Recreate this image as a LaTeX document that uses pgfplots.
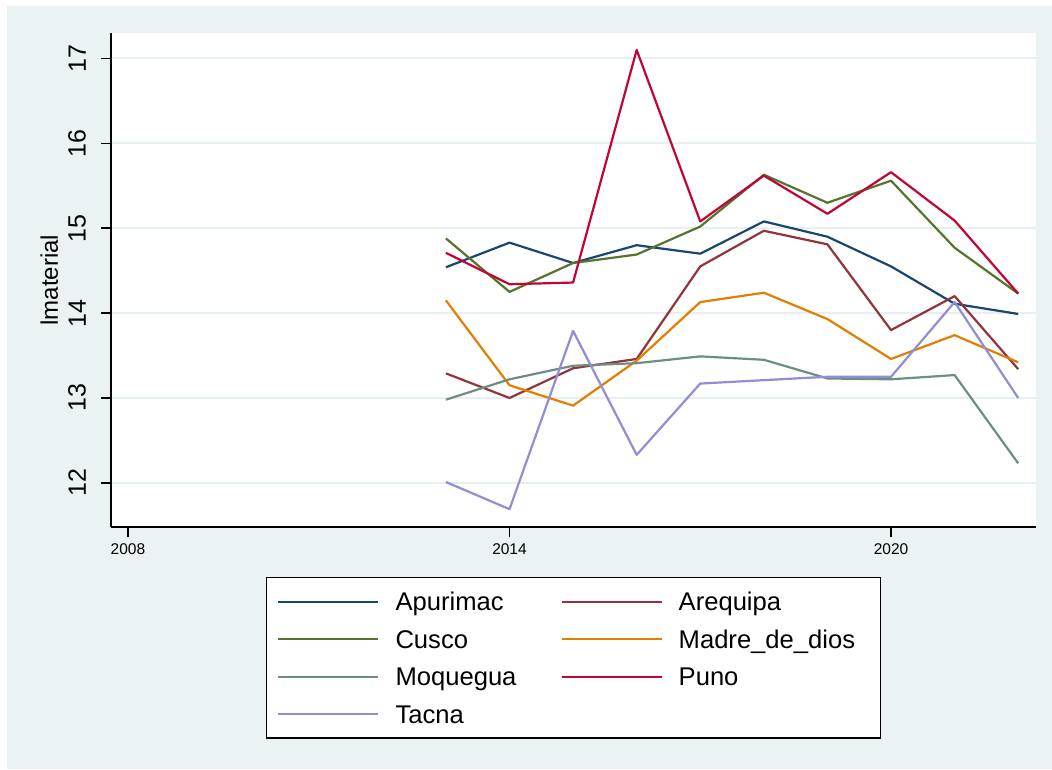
\documentclass[border=0pt]{standalone}
\usepackage{fontspec}
\setmainfont{Liberation Sans}
\setsansfont{Liberation Sans}
\usepackage{pgfplots}
\pgfplotsset{compat=1.18}
\definecolor{bgc}{RGB}{234,242,243}
\definecolor{gridc}{RGB}{230,239,241}
\definecolor{snavy}{RGB}{26,71,111}
\definecolor{smaroon}{RGB}{144,53,59}
\definecolor{sforest}{RGB}{85,117,47}
\definecolor{sdkorange}{RGB}{227,126,0}
\definecolor{steal}{RGB}{110,142,132}
\definecolor{scranberry}{RGB}{193,5,52}
\definecolor{slavender}{RGB}{147,141,210}

\pgfplotstableread{
year Apurimac Arequipa Cusco Madre Moquegua Puno Tacna
2013 14.54 13.29 14.88 14.15 12.98 14.71 12.01
2014 14.83 13.00 14.25 13.15 13.22 14.34 11.69
2015 14.59 13.35 14.59 12.91 13.38 14.36 13.79
2016 14.80 13.46 14.69 13.44 13.41 17.10 12.33
2017 14.70 14.55 15.02 14.13 13.49 15.08 13.17
2018 15.08 14.97 15.63 14.24 13.45 15.62 13.21
2019 14.90 14.81 15.30 13.93 13.23 15.17 13.25
2020 14.55 13.80 15.56 13.46 13.22 15.66 13.25
2021 14.11 14.20 14.77 13.74 13.27 15.09 14.13
2022 13.99 13.34 14.23 13.42 12.23 14.23 13.00
}\datatable

\begin{document}
\begin{tikzpicture}[x=1pt,y=1pt]
\fill[white] (0,0) rectangle (1052,769);
\fill[bgc] (7,0) rectangle (1052,763);
\begin{axis}[
  at={(111pt,242pt)}, anchor=south west,
  width=925pt, height=494pt, scale only axis,
  xmin=2007.733, xmax=2022.28, ymin=11.48, ymax=17.30,
  axis x line*=bottom, axis y line*=left,
  axis line style={line width=1.5pt, black, -},
  xtick={2008,2014,2020}, ytick={12,13,14,15,16,17},
  tick align=outside, major tick length=10pt,
  tick style={line width=1.5pt, black},
  minor tick num=0,
  ymajorgrids, grid style={line width=2pt, color=gridc},
  axis background/.style={fill=white},
  ticklabel style={/pgf/number format/assume math mode=true, /pgf/number format/1000 sep={}},
  xticklabel style={font=\fontsize{15.5}{18}\selectfont, inner sep=0pt, anchor=north},
  yticklabel style={font=\fontsize{25}{30}\selectfont, inner sep=0pt, rotate=90, anchor=south},
  xticklabel shift=6pt,
  yticklabel shift=15pt,
  ylabel={lmaterial},
  ylabel style={font=\fontsize{24}{28}\selectfont, at={(axis description cs:-0.057,0.5)}, anchor=south, inner sep=0pt},
  legend columns=2,
  legend image code/.code={\draw[#1] (0pt,0pt) -- (100pt,0pt);},
  legend style={at={(axis description cs:0.5,-0.1012)}, anchor=north, draw=black, line width=1.5pt, fill=white,
    inner xsep=11pt, inner ysep=9pt, font=\fontsize{25.6}{30}\selectfont,
    cells={anchor=west}, nodes={inner sep=0pt, text height=24pt, text depth=6pt},
    row sep=7.5pt,
    /tikz/every odd column/.append style={column sep=16pt},
    /tikz/every even column/.append style={column sep=44pt}},
  every axis plot/.append style={line width=2.2pt, line join=round},
]
\addplot[snavy, no markers] table[x=year,y=Apurimac] {\datatable};
\addlegendentry{Apurimac}
\addplot[smaroon, no markers] table[x=year,y=Arequipa] {\datatable};
\addlegendentry{Arequipa}
\addplot[sforest, no markers] table[x=year,y=Cusco] {\datatable};
\addlegendentry{Cusco}
\addplot[sdkorange, no markers] table[x=year,y=Madre] {\datatable};
\addlegendentry{\makebox[191pt][l]{Madre\_de\_dios}}
\addplot[steal, no markers] table[x=year,y=Moquegua] {\datatable};
\addlegendentry{Moquegua}
\addplot[scranberry, no markers] table[x=year,y=Puno] {\datatable};
\addlegendentry{Puno}
\addplot[slavender, no markers] table[x=year,y=Tacna] {\datatable};
\addlegendentry{Tacna}
\end{axis}
\end{tikzpicture}
\end{document}
